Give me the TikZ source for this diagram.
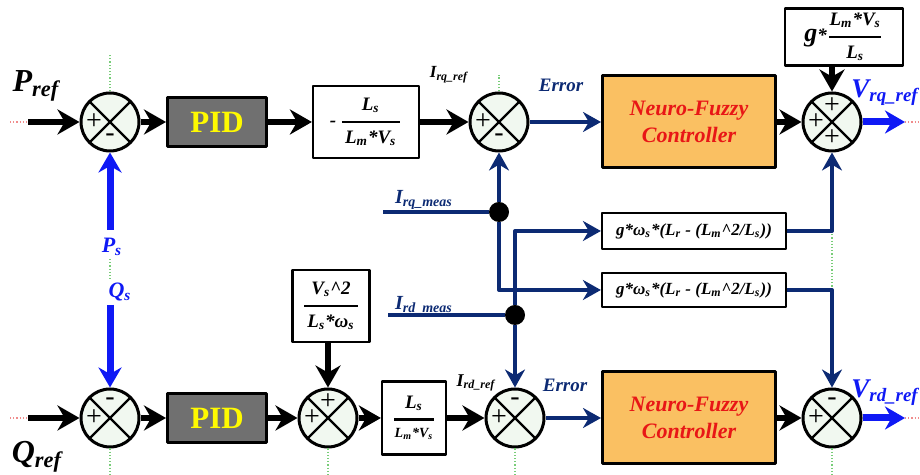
\documentclass[tikz,border=0pt]{standalone}
\usepackage{fontspec}
\setmainfont{Liberation Serif}
\usepackage{amsmath}
\usetikzlibrary{arrows.meta}
\definecolor{navy}{RGB}{12,42,115}
\definecolor{vblue}{RGB}{15,25,245}
\definecolor{nforange}{RGB}{250,192,98}
\definecolor{nfred}{RGB}{232,22,22}
\definecolor{pidgray}{RGB}{112,112,112}
\definecolor{pidyel}{RGB}{255,250,0}
\definecolor{sumfill}{RGB}{241,248,240}
\definecolor{guideg}{RGB}{120,205,120}
\definecolor{guider}{RGB}{240,140,140}
\newcommand{\sbs}[2]{#1\textsubscript{#2}}
\newcommand{\blkfrac}[3]{$\genfrac{}{}{1.3pt}{0}{\makebox[#1]{#2}}{\makebox[#1]{#3}}$}
\begin{document}
\begin{tikzpicture}[x=0.5pt,y=0.5pt,line join=round,font=\bfseries\itshape,
	sumnode/.style={circle,draw,line width=1.5pt,fill=sumfill,minimum size=29pt,inner sep=0pt,
		path picture={\draw[line width=1.2pt] (path picture bounding box.north west)--(path picture bounding box.south east)
			(path picture bounding box.south west)--(path picture bounding box.north east);}},
	sgn/.style={font=\fontsize{14}{14}\selectfont\normalfont,inner sep=0pt},
	pidbox/.style={draw,line width=1.5pt,fill=pidgray,text=pidyel,font=\fontsize{15.5}{16}\selectfont\bfseries,minimum width=49.5pt,minimum height=24.5pt},
	nfbox/.style={draw,line width=1.5pt,fill=nforange,text=nfred,align=center,font=\fontsize{11}{13.5}\selectfont\bfseries\itshape,minimum width=86.5pt,minimum height=46pt},
	gainbox/.style={draw,line width=1.1pt,fill=white,inner sep=1pt,font=\fontsize{9.5}{10}\selectfont\bfseries\itshape},
	dot/.style={circle,fill=black,minimum size=10pt,inner sep=0pt},
	blk/.style={line width=3.2pt,-{Stealth[length=11pt,width=12.5pt]}},
	nav/.style={navy,line width=2pt,-{Stealth[length=9pt,width=10pt]}},
	navline/.style={navy,line width=2pt},
	blu/.style={vblue,line width=3.5pt,-{Stealth[length=10pt,width=11.5pt]}},
	guide/.style={guideg,densely dotted,line width=0.6pt},
	guidep/.style={guider,densely dotted,line width=0.6pt}]
\useasboundingbox (0,0) rectangle (920,475);
% P loop
\node[sumnode] (s1) at (110,353) {};
\node[pidbox] (pid1) at (217,353) {PID};
\node[gainbox,minimum width=53pt,minimum height=36pt] (fr1) at (366,353) {-\,\blkfrac{29pt}{\sbs{L}{s}}{\sbs{L}{m}*\sbs{V}{s}}};
\node[sumnode] (s2) at (499,353) {};
\node[nfbox] (nf1) at (689,353) {Neuro-Fuzzy\\Controller};
\node[sumnode] (s3) at (832,353) {};
\node[gainbox,minimum width=59pt,minimum height=28.5pt] (gk) at (844,438) {{\fontsize{13}{13}\selectfont g}*\blkfrac{26pt}{\sbs{L}{m}*\sbs{V}{s}}{\sbs{L}{s}}};
% Q loop
\node[sumnode] (s4) at (110,57) {};
\node[pidbox] (pid2) at (217,57) {PID};
\node[sumnode] (s5) at (328,57) {};
\node[gainbox,minimum width=38.5pt,minimum height=36pt] (vs) at (331,169) {\blkfrac{27pt}{\sbs{V}{s}\textasciicircum 2}{\sbs{L}{s}*\sbs{ω}{s}}};
\node[gainbox,minimum width=32pt,minimum height=36.5pt] (fr2) at (414,57) {\blkfrac{20pt}{\sbs{L}{s}}{{\fontsize{7}{7}\selectfont\sbs{L}{m}*\sbs{V}{s}}}};
\node[sumnode] (s6) at (515,57) {};
\node[nfbox] (nf2) at (689,57) {Neuro-Fuzzy\\Controller};
\node[sumnode] (s7) at (832,57) {};
% decoupling terms
\node[gainbox,font=\fontsize{8.5}{9}\selectfont\bfseries\itshape,minimum width=92pt,minimum height=18pt] (gb1) at (694,244) {g*\sbs{ω}{s}*(\sbs{L}{r} - (\sbs{L}{m}\textasciicircum 2/\sbs{L}{s}))};
\node[gainbox,font=\fontsize{8.5}{9}\selectfont\bfseries\itshape,minimum width=92pt,minimum height=17pt] (gb2) at (694,185) {g*\sbs{ω}{s}*(\sbs{L}{r} - (\sbs{L}{m}\textasciicircum 2/\sbs{L}{s}))};
\node[dot] (j1) at (499,263) {};
\node[dot] (j2) at (515,160) {};
\coordinate (pin) at (28,353);
\coordinate (qin) at (28,57);
\coordinate (psin) at (110,245);
\coordinate (qsin) at (110,170);
\coordinate (rqm) at (383,263);
\coordinate (rdm) at (388,160);
\coordinate (vrq) at (905,353);
\coordinate (vrd) at (905,57);
% guides
\draw[guidep] (10,353)--(pin) (10,57)--(qin) (vrq)--(920,353) (vrd)--(920,57);
\draw[guide] (s1.north)--(110,420) (110,216)--(110,196) (s4.south)--(110,0) (s5.south)--(328,0)
	(s2.north)--(499,400) (s6.south)--(515,0) (832,244)--(832,185) (s7.south)--(832,0);
\foreach \n/\dx/\dy/\s in {s1/-1/0/+,s1/0/-1/-,s2/-1/0/+,s2/0/-1/-,s3/0/1/+,s3/-1/0/+,s3/0/-1/+,
	s4/0/1/-,s4/-1/0/+,s5/0/1/+,s5/-1/0/+,s6/0/1/-,s6/-1/0/+,s7/0/1/-,s7/-1/0/+}
	\node[sgn] at ([shift={(\dx*8pt,\dy*8pt)}]\n.center) {\s};
% signal paths
\draw[blk] (pin)--(s1);
\draw[blk] (s1)--(pid1);
\draw[blk] (pid1)--(fr1);
\draw[blk] (fr1)--(s2);
\draw[nav] (s2)--(nf1);
\draw[blk] (nf1)--(s3);
\draw[blk] (gk.south -| s3)--(s3);
\draw[blu] (s3)--(vrq);
\draw[blu] (psin)--(s1);
\draw[blu] (qsin)--(s4);
\draw[blk] (qin)--(s4);
\draw[blk] (s4)--(pid2);
\draw[blk] (pid2)--(s5);
\draw[blk] (vs.south -| s5)--(s5);
\draw[blk] (s5)--(fr2);
\draw[blk] (fr2)--(s6);
\draw[nav] (s6)--(nf2);
\draw[blk] (nf2)--(s7);
\draw[blu] (s7)--(vrd);
\draw[navline] (rqm)--(j1);
\draw[nav] (j1)--(s2);
\draw[nav] (j1) |- (gb2);
\draw[navline] (rdm)--(j2);
\draw[nav] (j2)--(s6);
\draw[nav] (j2) |- (gb1);
\draw[nav] (gb1) -| (s3);
\draw[nav] (gb2) -| (s7);
% labels
\node[font=\fontsize{16}{16}\selectfont\bfseries\itshape] (lpref) at (36,389) {\sbs{P}{ref}};
\node[font=\fontsize{16}{16}\selectfont\bfseries\itshape] (lqref) at (37,18) {\sbs{Q}{ref}};
\node[vblue,font=\fontsize{11}{11}\selectfont\bfseries\itshape] (lps) at (112,228) {\sbs{P}{s}};
\node[vblue,font=\fontsize{11}{11}\selectfont\bfseries\itshape] (lqs) at (120,183) {\sbs{Q}{s}};
\node[font=\fontsize{8.5}{9}\selectfont\bfseries\itshape] (lirq) at (449,400) {\sbs{I}{rq\_ref}};
\node[font=\fontsize{9}{9}\selectfont\bfseries\itshape] (lird) at (476,92) {\sbs{I}{rd\_ref}};
\node[navy,font=\fontsize{9.5}{10}\selectfont\bfseries\itshape] (ler1) at (561,390) {Error};
\node[navy,font=\fontsize{9.5}{10}\selectfont\bfseries\itshape] (ler2) at (565,90) {Error};
\node[navy,font=\fontsize{10}{10}\selectfont\bfseries\itshape] (lrqm) at (424,275) {\sbs{I}{rq\_meas}};
\node[navy,font=\fontsize{10}{10}\selectfont\bfseries\itshape] (lrdm) at (424,170) {\sbs{I}{rd\_meas}};
\node[vblue,anchor=west,inner sep=1pt,font=\fontsize{13.5}{14}\selectfont\bfseries\itshape] (lvrq) at (849,382) {\sbs{V}{rq\_ref}};
\node[vblue,anchor=west,inner sep=1pt,font=\fontsize{13.5}{14}\selectfont\bfseries\itshape] (lvrd) at (849,82) {\sbs{V}{rd\_ref}};
\end{tikzpicture}
\end{document}
